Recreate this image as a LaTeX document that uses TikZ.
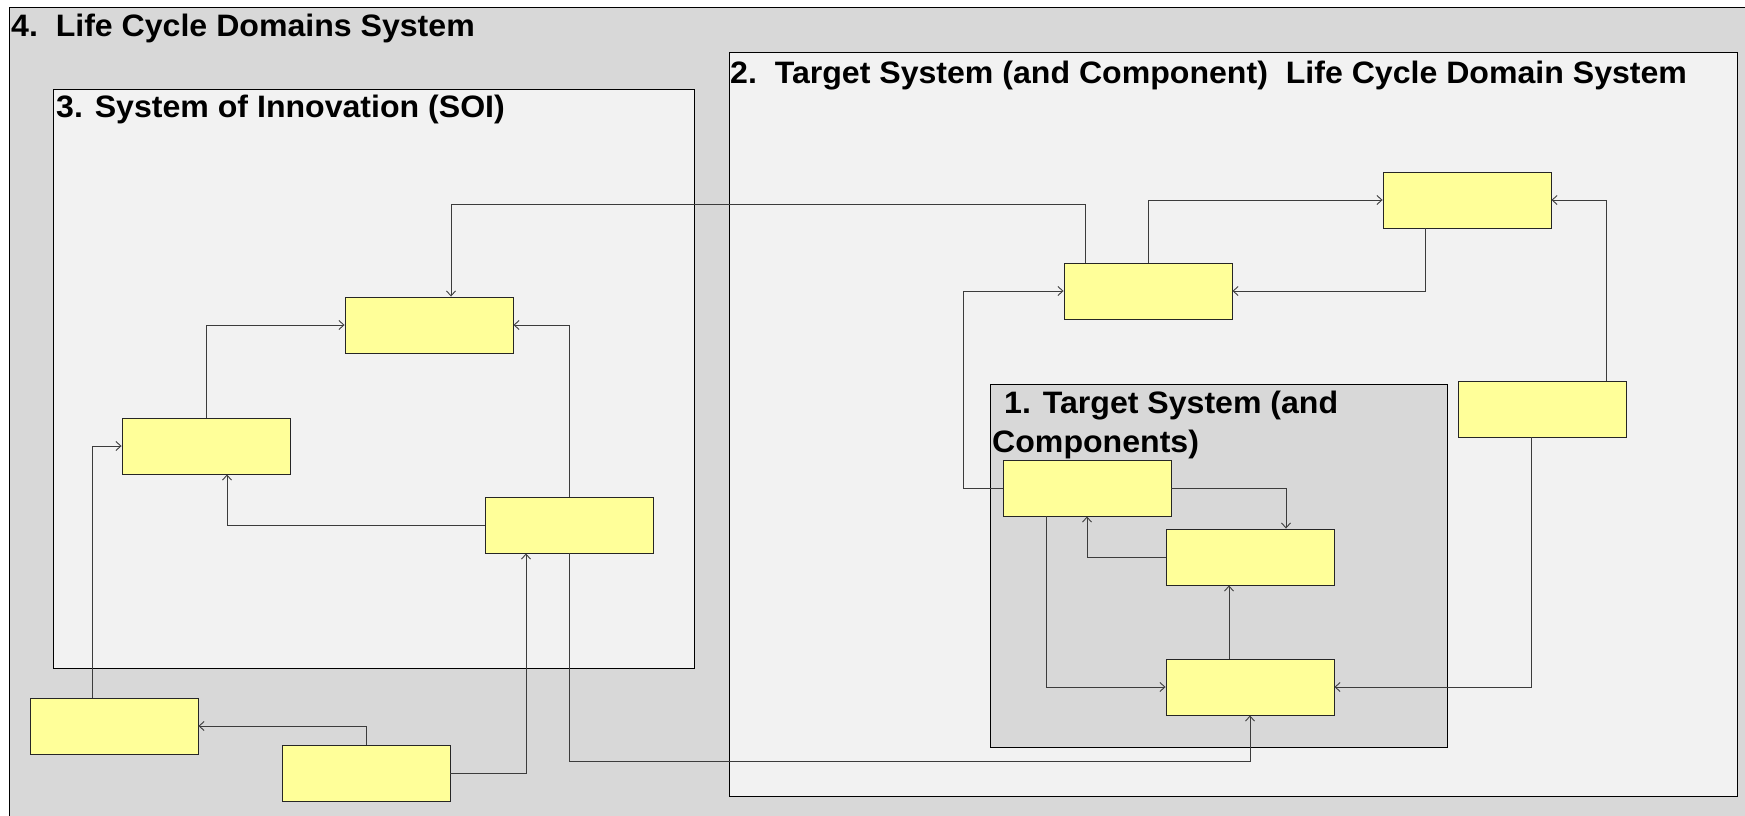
\documentclass[tikz,border=0pt]{standalone}
\usepackage{fontspec}
\setmainfont{Liberation Sans}[FakeStretch=1.035]
\usetikzlibrary{arrows.meta}
\usetikzlibrary{positioning}
\definecolor{outergrey}{HTML}{D8D8D8}
\definecolor{innergrey}{HTML}{F2F2F2}
\definecolor{boxyellow}{HTML}{FFFF99}
\definecolor{linegrey}{HTML}{3C3C3C}
\tikzset{
  blk/.style={draw=black!85, fill=boxyellow, line width=0.9pt,
    minimum width=168pt, minimum height=56pt, inner sep=0pt, on grid},
  flow/.style={draw=linegrey, line width=0.9pt,
    -{Straight Barb[length=5pt,width=9pt]}},
  lcframe/.style={draw=black, line width=1pt},
  title/.style={anchor=base west, inner sep=0pt,
    font=\fontsize{31}{39}\selectfont\bfseries},
}

\begin{document}
\begin{tikzpicture}[x=1pt, y=1pt]
    \useasboundingbox (0,0) rectangle (1745,-815);

    % the four domains
    \draw[lcframe, fill=outergrey] (9,-7) rectangle (1760,-830);
    \node[title] (t4) at (11,-36) {4.\ \ Life Cycle Domains System};
    \draw[lcframe, fill=innergrey] (53,-89) rectangle (694,-668);
    \node[title] (t3) at (56,-117) {3. System of Innovation (SOI)};
    \draw[lcframe, fill=innergrey] (729,-52) rectangle (1737,-796);
    \node[title] (t2) at (730,-83) {2.\ \ Target System (and Component)\ \ Life Cycle Domain System};
    \draw[lcframe, fill=outergrey] (990,-384) rectangle (1447,-747);
    \node[title] (t1) at (1004,-413) {1. Target System (and};
    \node[title] (t1b) at (992,-452) {Components)};

    % blocks
    \node[blk] (st) at (429,-325) {};
    \node[blk, below left=121pt and 223pt of st] (sl) {};
    \node[blk, below right=200pt and 140pt of st] (sr) {};
    \node[blk, below left=280pt and 92pt of sl] (ol) {};
    \node[blk, below right=47pt and 252pt of ol] (ob) {};
    \node[blk, above right=34pt and 719pt of st] (dl) {};
    \node[blk, above right=91pt and 319pt of dl] (dt) {};
    \node[blk, below right=209pt and 75pt of dt] (dr) {};
    \node[blk, below left=197pt and 61pt of dl] (ct) {};
    \node[blk, below right=69pt and 163pt of ct] (cm) {};
    \node[blk, below=130pt of cm] (cb) {};

    % flows
    \draw[flow] (dl.north) |- (dt.west);
    \draw[flow] ([xshift=-42pt]dt.south) |- (dl.east);
    \draw[flow] ([xshift=64pt]dr.north) |- (dt.east);
    \draw[flow] ([xshift=-63pt]dl.north) -- ++(0,58) -| ([xshift=22pt]st.north);
    \draw[flow] (ct.west) -- ++(-39,0) |- (dl.west);
    \draw[flow] (ct.east) -| ([xshift=36pt]cm.north);
    \draw[flow] (cm.west) -| (ct.south);
    \draw[flow] ([xshift=-41pt]ct.south) |- (cb.west);
    \draw[flow] ([xshift=-21pt]cb.north) -- ([xshift=-21pt]cm.south);
    \draw[flow] ([xshift=-11pt]dr.south) |- (cb.east);
    \draw[flow] (sr.south) -- ++(0,-208) -| (cb.south);
    \draw[flow] (ob.east) -| ([xshift=-43pt]sr.south);
    \draw[flow] (ob.north) |- (ol.east);
    \draw[flow] ([xshift=-22pt]ol.north) |- (sl.west);
    \draw[flow] (sl.north) |- (st.west);
    \draw[flow] (sr.north) |- (st.east);
    \draw[flow] (sr.west) -| ([xshift=21pt]sl.south);
\end{tikzpicture}
\end{document}
